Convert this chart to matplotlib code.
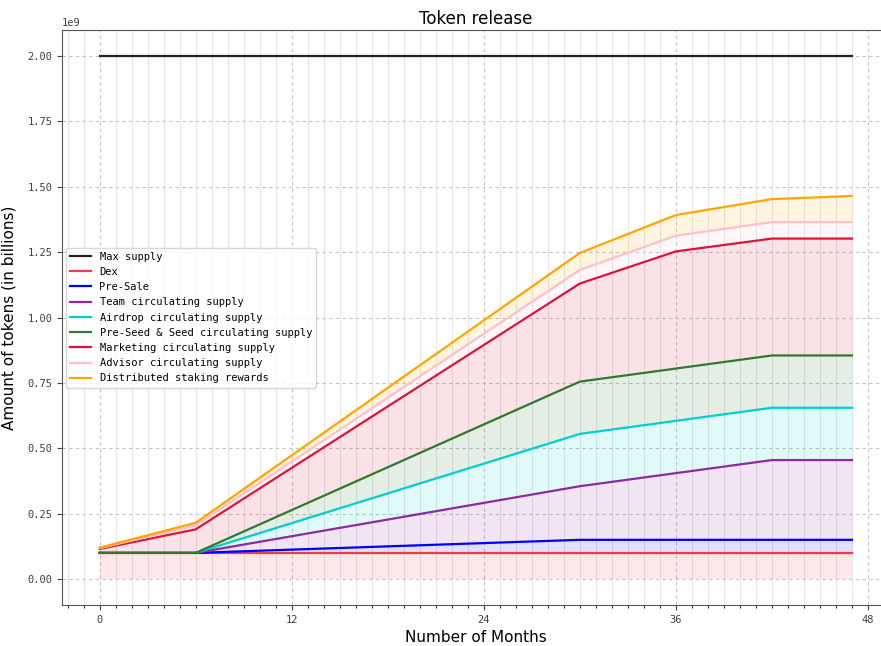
import matplotlib
matplotlib.use("Agg")
import matplotlib.pyplot as plt
from matplotlib.ticker import MultipleLocator, FixedLocator
import numpy as np

# cumulative token release, in billions, read at the kink months
months = [0, 6, 30, 36, 42, 47]
max_supply = [2.0, 2.0, 2.0, 2.0, 2.0, 2.0]
dex = [0.1, 0.1, 0.1, 0.1, 0.1, 0.1]
pre_sale = [0.1, 0.1, 0.15, 0.15, 0.15, 0.15]
team = [0.1, 0.1, 0.355, 0.405, 0.455, 0.455]
airdrop = [0.1, 0.1, 0.555, 0.605, 0.655, 0.655]
pre_seed = [0.1, 0.1, 0.755, 0.805, 0.855, 0.855]
marketing = [0.115, 0.19, 1.13, 1.253, 1.302, 1.302]
advisor = [0.118, 0.205, 1.182, 1.313, 1.365, 1.365]
staking = [0.12, 0.215, 1.247, 1.392, 1.453, 1.465]

labels = ['Max supply', 'Dex', 'Pre-Sale', 'Team circulating supply',
          'Airdrop circulating supply', 'Pre-Seed & Seed circulating supply',
          'Marketing circulating supply', 'Advisor circulating supply',
          'Distributed staking rewards']
colors = ['#222222', '#f03c46', 'blue', '#8e2a9c', 'darkturquoise', '#2e7a2e',
          'crimson', 'pink', 'orange']

plt.rcParams['font.family'] = 'DejaVu Sans Mono'

fig = plt.figure(figsize=(8.81, 6.46), dpi=100)
W, H = 881, 646
left, right, top, bottom = 62, 889.6, 29.9, 605.2
ax = fig.add_axes([left / W, 1 - bottom / H, (right - left) / W, (bottom - top) / H])

x = np.array(months)
series = [max_supply, dex, pre_sale, team, airdrop, pre_seed,
          marketing, advisor, staking]
prev = np.zeros(len(months))
for i, (vals, lab, col) in enumerate(zip(series, labels, colors)):
    y = np.array(vals) * 1e9
    ax.plot(x, y, color=col, label=lab, linewidth=1.6, zorder=3)
    if i == 0:
        continue
    ax.fill_between(x, prev, y, color=col, alpha=0.12, linewidth=0, zorder=2)
    prev = y

ax.xaxis.set_major_locator(MultipleLocator(12))
ax.xaxis.set_minor_locator(FixedLocator(np.arange(-2, 49)))
ax.yaxis.set_major_locator(MultipleLocator(0.25e9))
ax.set_xlim(-2.35, 49.35)
ax.set_ylim(-0.1e9, 2.1e9)

ax.grid(which='major', linestyle=(0, (3, 3)), color='#c4c4c4', linewidth=0.8)
ax.grid(which='minor', axis='x', linestyle='-', color='#e6e6e6', linewidth=0.8)
ax.set_axisbelow(True)
ax.tick_params(labelsize=7.5, colors='#404040')
for sp in ax.spines.values():
    sp.set_color('#555555')
ax.spines['right'].set_visible(False)
ax.yaxis.get_offset_text().set_fontsize(7.5)

ax.set_title('Token release', family='DejaVu Sans', fontsize=12, pad=4)
ax.set_xlabel('Number of Months', family='DejaVu Sans', fontsize=11, labelpad=4)
ax.set_ylabel('Amount of tokens (in billions)', family='DejaVu Sans', fontsize=11, labelpad=8)

ax.legend(loc='center left', fontsize=7.5, framealpha=0.8, borderaxespad=0.4)

fig.savefig('out.png', dpi=100, facecolor='white')
